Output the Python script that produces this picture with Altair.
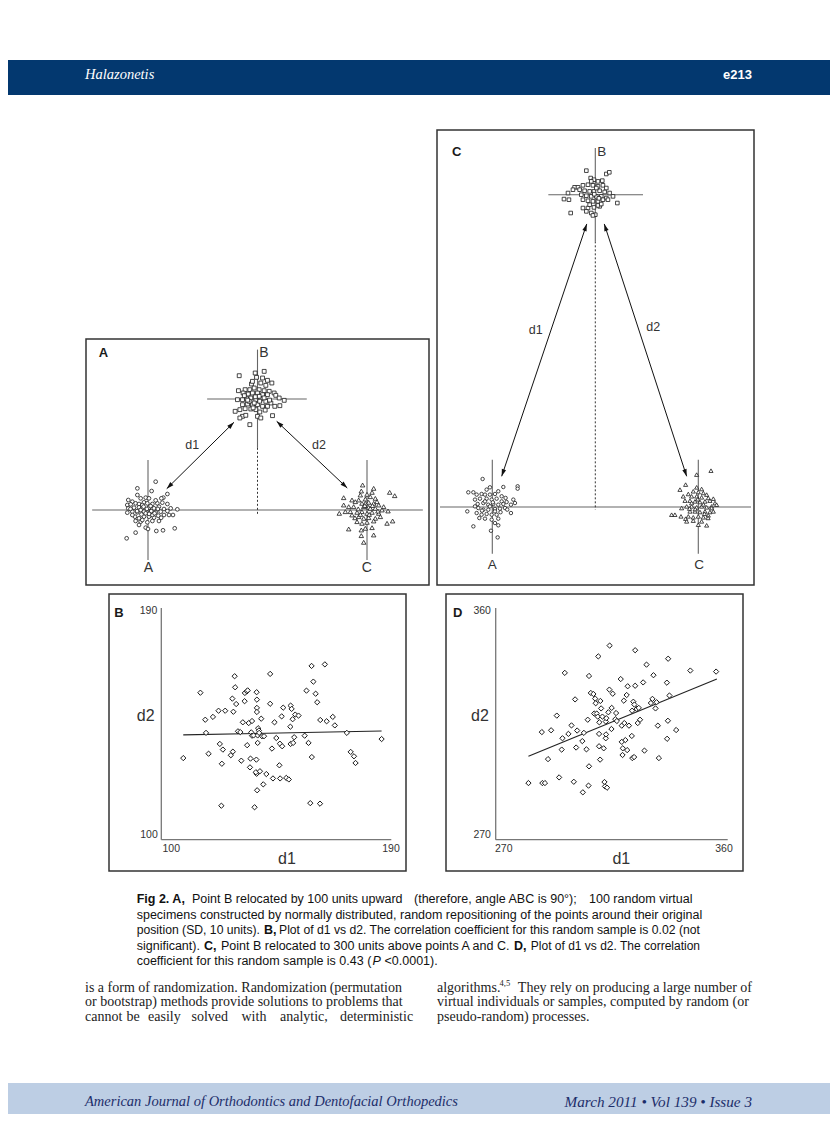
import altair as alt
import pandas as pd

SANS = "Liberation Sans, Arial, Helvetica, sans-serif"
NARROW = "Liberation Sans Narrow, Arial Narrow, Liberation Sans, sans-serif"
SERIF = "Liberation Serif, Times New Roman, serif"

# ---------------- Panel B: d1 vs d2 (B 100 units above) ----------------
b_d1 = [108.6,115.3,117.2,117.5,118.5,120.2,122.4,122.9,123.7,124.1,
        123.5,125.0,127.2,127.8,128.2,128.0,128.7,128.9,129.3,130.0,
        130.9,131.3,131.9,132.6,132.7,133.5,133.8,133.6,134.2,134.7,
        134.9,135.2,135.5,135.5,136.1,136.5,137.2,137.3,137.4,137.4,
        137.4,137.3,137.0,137.7,137.7,137.5,137.9,138.2,138.3,138.6,
        139.1,139.4,139.9,140.2,141.1,142.6,142.6,143.3,143.7,144.3,
        145.0,146.2,146.4,146.5,147.1,147.3,147.7,148.9,149.9,150.5,
        150.6,151.0,150.6,151.4,151.6,152.0,152.4,153.7,156.1,156.8,
        157.6,158.3,158.8,158.9,159.5,160.4,161.0,162.1,162.2,164.0,
        164.7,167.1,167.9,172.6,174.1,175.4,176.0,186.2]
b_d2 = [131.7,157.1,146.6,141.5,133.4,147.7,150.1,137.2,129.5,135.0,
        113.2,150.1,132.8,154.8,149.7,134.2,163.5,159.2,152.7,142.1,
        141.8,130.7,145.6,153.8,157.0,157.6,158.0,136.7,145.3,128.1,
        131.5,141.7,146.1,140.4,140.5,112.6,131.1,157.3,154.4,151.2,
        149.6,125.6,126.2,137.6,140.5,119.2,143.3,142.4,141.5,126.6,
        147.0,140.2,121.5,140.2,125.5,164.4,152.8,135.4,123.8,145.6,
        139.5,128.9,137.3,123.8,147.9,136.3,151.3,124.0,123.4,143.9,
        152.1,150.8,137.2,146.8,137.6,139.8,148.6,148.2,140.4,157.9,
        137.6,114.2,167.5,132.1,161.4,156.7,153.4,114.0,146.5,168.1,
        146.0,147.7,144.4,141.5,134.1,132.4,129.8,139.1]
b_fit_d1 = [108.6, 186.2]
b_fit_d2 = [140.7, 142.2]

# ---------------- Panel D: d1 vs d2 (B 300 units above) ----------------
d_d1 = [282.7,287.9,288.1,289.1,290.3,291.5,293.7,294.6,295.6,295.9,
        296.8,298.2,299.4,300.3,300.8,301.2,301.6,303.6,303.8,304.2,
        305.2,305.7,306.0,306.2,306.2,306.9,307.9,308.2,308.6,308.8,
        309.2,309.6,309.8,310.1,310.1,310.2,310.5,310.6,310.9,311.4,
        311.9,312.2,312.4,312.7,312.7,312.8,312.9,313.2,313.7,314.2,
        314.1,314.9,315.0,315.4,316.4,316.7,317.0,318.5,318.9,318.9,
        319.2,319.3,319.7,319.9,320.3,320.8,321.0,321.2,321.7,322.8,
        322.9,323.0,323.4,323.7,323.8,324.1,324.1,324.7,325.1,325.5,
        326.0,327.2,327.7,328.5,330.2,330.8,331.2,332.0,332.4,332.9,
        333.3,336.4,336.5,336.8,336.9,337.4,340.0,345.5,355.5]
d_d2 = [292.0,311.8,292.0,292.0,301.3,312.5,318.2,294.2,305.0,309.4,
        334.8,311.1,314.4,292.5,324.5,305.8,312.4,308.3,288.4,311.5,
        305.1,316.6,291.0,298.5,333.6,327.0,326.6,319.0,324.8,323.0,
        319.0,317.8,341.2,311.1,306.3,315.6,301.1,323.9,321.0,317.8,
        305.5,292.4,290.7,315.9,309.4,310.9,317.2,290.2,319.5,345.4,
        328.3,313.0,321.2,326.7,316.8,319.2,316.1,332.4,308.0,314.3,
        302.9,305.5,324.0,315.3,308.7,326.2,304.8,329.6,314.3,310.3,
        320.1,301.7,323.6,302.1,322.5,343.6,329.8,320.8,315.3,321.2,
        316.6,331.1,304.6,338.0,323.1,324.7,333.9,321.0,323.4,314.3,
        301.7,331.0,309.2,316.2,340.3,326.0,312.6,335.7,335.3]
d_fit_d1 = [282.7, 355.8]
d_fit_d2 = [302.4, 332.4]

# ---------------- Panel A: virtual specimens (offsets in units) ----------------
a_pos_A = (0, 0)
a_pos_B = (100, 100)
a_pos_C = (200, 0)
a_off_A = [(-9.7,19.5),(7.0,25.5),(3.3,17.1),(17.7,14.4),(14.0,11.1),(12.2,10.5),(-18.0,9.0),(-14.3,7.5),
           (-6.7,10.5),(-2.1,11.1),(0.9,10.5),(-18.9,4.5),(-15.8,5.1),(-11.3,6.0),(-8.2,5.4),(-3.7,6.9),
           (-0.6,6.0),(4.0,5.4),(8.5,6.0),(13.1,6.6),(17.7,5.4),(-18.0,1.5),(-12.8,2.1),(-8.2,2.4),
           (-5.2,1.5),(0.9,2.1),(5.5,1.5),(10.0,3.0),(14.6,0.9),(20.7,1.5),(26.8,0.6),(-18.9,-2.4),
           (-14.3,-1.5),(-9.7,-2.1),(-3.7,-1.5),(2.4,-1.5),(7.0,-2.1),(11.6,-1.5),(17.7,-0.9),(22.8,-4.5),
           (-11.9,-6.0),(-8.2,-7.5),(-3.7,-6.0),(0.9,-6.0),(5.5,-6.9),(9.4,-5.1),(14.6,-4.5),(-11.3,-9.9),
           (-6.7,-10.5),(-0.6,-11.1),(4.0,-9.9),(10.0,-9.9),(-2.1,-15.9),(0.0,-17.1),(7.6,-18.9),(13.7,-18.3),
           (24.4,-16.5),(-11.3,-20.4),(-19.5,-25.5),(-8.2,-13.5),(-5.2,-9.0),(-14.3,-4.5),(19.2,-4.5),(4.0,-4.5),
           (-2.1,-3.0),(-6.7,0.0),(2.4,3.6),(-5.2,4.5),(7.0,8.7),(-9.7,13.5),(-1.0,1.0),(3.0,-1.0),
           (-4.0,3.0),(6.0,-3.0),(-10.0,-1.0),(1.0,-3.5),(9.0,1.0),(-6.0,-4.0),(12.0,-7.0),(-16.0,1.0)]
a_off_B = [(-16.7,21.0),(-2.1,23.4),(6.1,24.9),(-0.9,19.5),(9.1,16.8),(13.1,14.4),(3.0,14.4),(-5.5,13.5),
           (7.6,12.3),(-11.3,8.4),(-7.0,8.4),(-3.0,9.9),(1.5,8.4),(6.1,7.5),(10.7,6.9),(15.2,5.4),
           (-17.4,7.5),(-13.1,5.4),(-8.5,4.5),(-4.6,5.4),(0.0,5.4),(4.6,3.9),(9.1,3.9),(16.7,3.3),
           (19.8,0.9),(24.4,-1.2),(-18.3,-0.6),(-13.7,-0.6),(-10.0,0.3),(-6.1,0.9),(-1.5,-0.6),(3.0,0.0),
           (7.6,-2.1),(12.2,-3.6),(15.8,-6.6),(20.4,-6.0),(-13.7,-5.1),(-9.1,-4.5),(-4.6,-5.1),(0.0,-5.1),
           (4.6,-6.6),(9.1,-6.6),(-20.4,-11.1),(-16.1,-9.6),(-11.3,-8.7),(-6.1,-9.0),(-1.5,-9.6),(2.1,-11.7),
           (-13.7,-15.6),(-16.1,-17.1),(-10.7,-14.7),(0.0,-15.6),(3.0,-17.1),(13.7,-15.0),(-7.0,-23.1),(-3.0,-3.6),
           (-7.6,-2.1),(1.5,2.4),(-4.6,15.9),(4.6,18.9),(-2.0,2.0),(2.0,-2.0),(6.0,1.0),(-9.0,-1.0),
           (11.0,-1.0),(-4.0,-8.0),(7.0,-10.0),(-12.0,3.0)]
a_off_C = [(-4.0,22.5),(6.1,19.5),(-5.2,17.1),(4.6,15.9),(20.7,15.9),(25.3,12.9),(0.0,14.1),(-6.1,13.5),
           (3.0,12.0),(-21.3,11.1),(-13.7,9.0),(-7.6,9.0),(-1.5,9.9),(7.6,10.5),(-10.7,7.5),(-4.6,6.0),
           (1.5,6.9),(6.1,6.0),(10.7,4.5),(15.2,3.0),(-21.3,4.5),(-16.7,3.0),(-12.2,3.0),(-3.0,3.0),
           (1.5,2.4),(7.6,1.5),(13.7,0.0),(19.2,-0.9),(-25.3,-3.0),(-19.8,-1.5),(-15.2,-1.5),(-9.1,-2.1),
           (-4.6,-1.5),(0.0,-3.0),(4.6,-2.1),(10.7,-3.0),(-7.6,-6.0),(-3.0,-7.5),(1.5,-6.9),(7.6,-7.5),
           (12.2,-6.0),(-9.1,-10.5),(-4.6,-12.0),(0.0,-11.1),(6.1,-9.9),(18.3,-12.0),(23.4,-9.9),(-16.7,-17.1),
           (-5.2,-18.0),(-1.5,-16.5),(4.6,-15.9),(-5.2,-23.1),(6.1,-22.5),(-3.0,-29.1),(-13.7,-4.5),(3.0,1.5),
           (9.1,7.5),(-1.5,6.0),(-8.0,1.0),(2.0,-4.0),(10.0,-1.0),(-2.0,4.0),(5.0,4.0),(-11.0,-7.0),(-6.0,-4.0)]

# ---------------- Panel C: virtual specimens (offsets in units) ----------------
c_pos_A = (0, 0)
c_pos_B = (100, 300)
c_pos_C = (200, 0)
c_off_A = [(-9.4,26.9),(10.7,19.2),(24.6,19.9),(24.6,17.6),(5.8,15.1),(-2.3,18.9),(-5.5,16.7),(-23.3,14.1),
           (-18.4,14.1),(-15.2,11.9),(-10.4,12.5),(-7.1,11.9),(-2.3,11.9),(2.6,12.5),(9.1,10.3),(12.9,8.7),
           (20.4,7.1),(-16.8,7.1),(-12.0,8.0),(-5.5,8.0),(-0.6,7.1),(4.2,8.0),(9.1,5.4),(13.9,4.8),
           (22.0,3.8),(-14.2,2.9),(-8.7,3.8),(-3.9,2.2),(1.0,2.9),(5.8,2.2),(10.7,2.9),(18.1,2.2),
           (-24.3,-4.2),(-13.6,-1.0),(-8.7,-2.6),(-3.9,-2.6),(2.6,-1.9),(7.4,-1.6),(12.3,-1.0),(18.1,-5.8),
           (-15.2,-5.8),(-10.4,-7.4),(-5.5,-6.7),(-0.6,-7.4),(4.2,-7.4),(-12.6,-10.6),(-7.1,-11.2),(-0.6,-12.2),
           (5.8,-11.2),(2.6,-15.4),(5.8,-17.6),(-18.4,-18.6),(-1.3,-22.8),(5.2,-29.2),(-16.8,0.6),(-2.3,0.6),
           (-7.1,5.4),(2.6,-4.2),(0.5,4.5),(-10.0,-3.5),(8.0,-5.0),(14.5,-2.5)]
c_off_B = [(-8.7,23.1),(10.7,19.9),(13.6,21.5),(6.8,13.5),(-4.5,16.0),(-1.3,14.4),(2.6,12.8),(-20.1,7.1),
           (-16.8,7.1),(-12.0,9.0),(-7.1,9.6),(-2.3,9.0),(2.6,8.0),(7.4,9.0),(10.7,6.4),(-26.5,1.6),
           (-21.7,4.8),(-15.2,4.8),(-10.4,3.8),(-5.5,3.2),(-1.3,3.2),(4.2,3.8),(9.1,2.6),(13.9,1.6),
           (-30.4,-4.2),(-25.6,-4.8),(-13.6,0.0),(-8.7,-1.0),(-3.9,-1.6),(1.0,-1.6),(5.8,-1.6),(10.7,-3.2),
           (17.2,-1.6),(21.4,-8.0),(-12.0,-4.8),(-7.1,-5.8),(-2.3,-6.4),(2.6,-6.4),(7.4,-4.8),(12.3,-4.8),
           (-12.0,-12.8),(-7.1,-12.8),(-1.3,-12.2),(4.2,-11.2),(-23.9,-17.6),(-8.7,-16.0),(-3.9,-17.6),(0.0,-19.2),
           (2.6,-10.3),(-2.3,-19.9),(5.8,-9.0),(-5.5,-9.6),(1.0,6.4),(-3.9,12.8),(-1.0,0.5),(3.5,-3.5)]
c_off_C = [(12.3,34.9),(-1.6,31.1),(-12.3,21.5),(-17.8,16.7),(-1.6,18.9),(3.2,17.3),(-4.9,15.1),(0.0,14.4),
           (4.9,13.5),(8.1,11.9),(-9.7,12.5),(-14.6,10.3),(-6.5,10.3),(-1.6,10.3),(3.2,9.3),(9.7,8.7),
           (14.6,8.0),(-12.9,6.1),(-8.1,6.1),(-3.2,5.4),(1.6,4.8),(6.5,5.4),(11.3,6.1),(16.2,3.8),
           (-16.2,-1.0),(-11.3,0.6),(-6.5,0.6),(-1.6,-0.3),(3.2,0.6),(8.1,-0.3),(12.9,0.6),(17.8,2.2),
           (-25.9,-7.4),(-22.7,-7.4),(-16.8,-9.0),(-12.3,-11.2),(-8.1,-4.2),(-3.2,-4.2),(1.6,-4.8),(6.5,-4.2),
           (11.3,-4.8),(-9.7,-9.0),(-4.9,-9.9),(0.0,-9.0),(4.9,-9.9),(9.7,-8.0),(14.6,-4.2),(0.0,-17.0),
           (8.1,-17.6),(-11.3,-13.8),(3.2,-13.8),(-4.9,-13.1),(-6.5,3.8),(12.9,-1.0),(-3.0,-2.0),(5.0,2.5),
           (9.5,-10.5),(-0.5,7.5),(6.0,-6.5),(-8.5,-1.5)]

# --------------------------------------------------------------------------------
M = 8
W, H = 822, 1106
one = pd.DataFrame({"k": [0]})
ARROW = "M0,0L1,3.2L-1,3.2Z"


def sc(domain, r0, r1):
    return alt.Scale(domain=domain, range=[r0 - M, r1 - M], nice=False, zero=False)


def txt(s, x, y, size, weight="normal", style="normal", font=SANS, color="#1a1a1a", align="left"):
    return alt.Chart(one).mark_text(
        text=s, fontSize=size, fontWeight=weight, fontStyle=style, font=font,
        color=color, align=align, baseline="middle"
    ).encode(x=alt.value(x - M), y=alt.value(y - M))


def box(x0, y0, x1, y1, fill, stroke="", sw=0):
    kw = dict(fill=fill)
    if stroke:
        kw.update(stroke=stroke, strokeWidth=sw)
    return alt.Chart(one).mark_rect(**kw).encode(
        x=alt.value(x0 - M), x2=alt.value(x1 - M), y=alt.value(y0 - M), y2=alt.value(y1 - M))


def segs(df, sx, sy, color, width, dash=None):
    kw = dict(color=color, strokeWidth=width)
    if dash:
        kw["strokeDash"] = dash
    return alt.Chart(df).mark_rule(**kw).encode(
        x=alt.X("x:Q", scale=sx, axis=None), y=alt.Y("y:Q", scale=sy, axis=None),
        x2="x2:Q", y2="y2:Q")


def pts(df, sx, sy, shape, size, sw=0.8):
    return alt.Chart(df).mark_point(
        shape=shape, size=size, filled=True, fill="white", stroke="#1a1a1a",
        strokeWidth=sw, opacity=1
    ).encode(x=alt.X("x:Q", scale=sx, axis=None), y=alt.Y("y:Q", scale=sy, axis=None))


def heads(df, sx, sy):
    return alt.Chart(df).mark_point(
        shape=ARROW, size=20, filled=True, color="#111", opacity=1, strokeWidth=0
    ).encode(x=alt.X("x:Q", scale=sx, axis=None), y=alt.Y("y:Q", scale=sy, axis=None),
             angle=alt.Angle("a:Q", scale=None))


def cluster(offsets, pos):
    return pd.DataFrame({"x": [pos[0] + dx for dx, dy in offsets],
                         "y": [pos[1] + dy for dx, dy in offsets]})


layers = []

# page bars
layers.append(box(0, 60, 838, 95, "#03386f"))
layers.append(txt("Halazonetis", 85, 75, 14.5, style="italic", font=SERIF, color="white"))
layers.append(txt("e213", 752, 75, 13, weight="bold", font=NARROW, color="white", align="right"))
layers.append(box(0, 1083, 838, 1130, "#bdcee4"))
layers.append(txt("American Journal of Orthodontics and Dentofacial Orthopedics", 85, 1102, 14.5,
                  style="italic", font=SERIF, color="#1c2d6a"))
layers.append(txt("March 2011 \u2022 Vol 139 \u2022 Issue 3", 752, 1102, 15.2,
                  style="italic", font=SERIF, color="#1c2d6a", align="right"))

# panel frames
layers.append(box(86, 339, 429, 585, "white", "#333", 1.5))
layers.append(box(437, 130, 754, 585, "white", "#333", 1.5))
layers.append(box(109, 594, 406, 871, "white", "#333", 1.5))
layers.append(box(446, 594, 743, 871, "white", "#333", 1.5))

# ---------------- Panel A ----------------
xA = sc([0, 200], 148, 367)
yA = sc([0, 100], 510, 399)
crossA = pd.DataFrame({"x": [-51, 0, 200, 54, 100], "y": [0, -45, -45, 100, 56],
                       "x2": [251, 0, 200, 145, 100], "y2": [0, 45, 45, 100, 144.5]})
dotA = pd.DataFrame({"x": [100], "y": [56], "x2": [100], "y2": [-4]})
arrA = pd.DataFrame({"x": [17.1, 117.5], "y": [19.2, 79.9], "x2": [78.5, 182.0], "y2": [79.0, 19.8]})
headA = pd.DataFrame({"x": [17.1, 78.5, 117.5, 182.0], "y": [19.2, 79.0, 79.9, 19.8],
                      "a": [225.4, 45.4, 313.4, 133.4]})
layers += [
    segs(crossA, xA, yA, "#666", 1.1),
    segs(dotA, xA, yA, "#333", 1, [2, 2]),
    segs(arrA, xA, yA, "#111", 1),
    heads(headA, xA, yA),
    pts(cluster(a_off_A, a_pos_A), xA, yA, "circle", 14),
    pts(cluster(a_off_B, a_pos_B), xA, yA, "square", 15),
    pts(cluster(a_off_C, a_pos_C), xA, yA, "triangle-up", 20),
    txt("A", 98.8, 353, 13, weight="bold"),
    txt("B", 264, 353, 14, align="center", color="#333"),
    txt("A", 148.3, 568, 14, align="center", color="#333"),
    txt("C", 366.7, 568, 14, align="center", color="#333"),
    txt("d1", 192.3, 445, 12.5, align="center", color="#333"),
    txt("d2", 319, 445, 12.5, align="center", color="#333"),
]

# ---------------- Panel C ----------------
xC = sc([0, 200], 492.3, 698.3)
yC = sc([0, 300], 507, 194.7)
crossC = pd.DataFrame({"x": [-50.8, 0, 200, 54.4, 100], "y": [0, -45, -45, 300, 255.2],
                       "x2": [251.2, 0, 200, 146.3, 100], "y2": [0, 45.4, 45.4, 300, 344.9]})
dotC = pd.DataFrame({"x": [100], "y": [255.2], "x2": [100], "y2": [-2.6]})
arrC = pd.DataFrame({"x": [9.1, 108.7], "y": [29.5, 271.9], "x2": [91.7, 188.7], "y2": [271.9, 29.5]})
headC = pd.DataFrame({"x": [9.1, 91.7, 108.7, 188.7], "y": [29.5, 271.9, 271.9, 29.5],
                      "a": [198.6, 18.6, 341.9, 161.9]})
layers += [
    segs(crossC, xC, yC, "#666", 1.1),
    segs(dotC, xC, yC, "#333", 1, [2, 2]),
    segs(arrC, xC, yC, "#111", 1),
    heads(headC, xC, yC),
    pts(cluster(c_off_A, c_pos_A), xC, yC, "circle", 12),
    pts(cluster(c_off_B, c_pos_B), xC, yC, "square", 13),
    pts(cluster(c_off_C, c_pos_C), xC, yC, "triangle-up", 17),
    txt("C", 456.7, 152, 13, weight="bold", align="center"),
    txt("B", 601.7, 152, 13.5, align="center", color="#333"),
    txt("A", 492.3, 565, 13.5, align="center", color="#333"),
    txt("C", 699, 565, 13.5, align="center", color="#333"),
    txt("d1", 535.7, 330, 12.5, align="center", color="#333"),
    txt("d2", 653.3, 326.5, 12.5, align="center", color="#333"),
]

# ---------------- Panel B ----------------
xB = sc([100, 190], 161.3, 391.3)
yB = sc([100, 190], 839.7, 608)
axB = pd.DataFrame({"x": [100, 100], "y": [100, 100], "x2": [100, 190], "y2": [190, 100]})
fitB = pd.DataFrame({"x": [b_fit_d1[0]], "y": [b_fit_d2[0]], "x2": [b_fit_d1[1]], "y2": [b_fit_d2[1]]})
layers += [
    segs(axB, xB, yB, "#777", 1.3),
    segs(fitB, xB, yB, "#222", 1.1),
    pts(pd.DataFrame({"x": b_d1, "y": b_d2}), xB, yB, "diamond", 28, 1.0),
    txt("B", 119, 612.5, 13, weight="bold", align="center"),
    txt("190", 148.5, 610.5, 10.5, align="center", color="#333"),
    txt("100", 149, 835, 10.5, align="center", color="#333"),
    txt("100", 171.3, 849, 10.5, align="center", color="#333"),
    txt("190", 391, 849, 10.5, align="center", color="#333"),
    txt("d2", 145.7, 716, 16, align="center", color="#333"),
    txt("d1", 287, 858.5, 16, align="center", color="#333"),
]

# ---------------- Panel D ----------------
xD = sc([270, 360], 495.7, 727.7)
yD = sc([270, 360], 839.7, 608)
axD = pd.DataFrame({"x": [270, 270], "y": [270, 270], "x2": [270, 360], "y2": [360, 270]})
fitD = pd.DataFrame({"x": [d_fit_d1[0]], "y": [d_fit_d2[0]], "x2": [d_fit_d1[1]], "y2": [d_fit_d2[1]]})
layers += [
    segs(axD, xD, yD, "#777", 1.3),
    segs(fitD, xD, yD, "#222", 1.1),
    pts(pd.DataFrame({"x": d_d1, "y": d_d2}), xD, yD, "diamond", 28, 1.0),
    txt("D", 457.7, 612.5, 13, weight="bold", align="center"),
    txt("360", 482.2, 610.5, 10.5, align="center", color="#333"),
    txt("270", 482.2, 835, 10.5, align="center", color="#333"),
    txt("270", 503.8, 849, 10.5, align="center", color="#333"),
    txt("360", 724, 849, 10.5, align="center", color="#333"),
    txt("d2", 480, 716, 16, align="center", color="#333"),
    txt("d1", 621.3, 858.5, 16, align="center", color="#333"),
]

# ---------------- Caption ----------------
CS = 12.5
CC = "#111"
layers += [
    txt("Fig 2. A,", 136.7, 899, CS, weight="bold", color=CC),
    txt("Point B relocated by 100 units upward", 192, 899, CS, color=CC),
    txt("(therefore, angle ABC is 90\u00b0);", 414, 899, CS, color=CC),
    txt("100 random virtual", 589, 899, CS, color=CC),
    txt("specimens constructed by normally distributed, random repositioning of the points around their original",
        136.7, 914.5, CS, color=CC),
    txt("position (SD, 10 units).", 136.7, 930, 12.2, color=CC),
    txt("B,", 264, 930, CS, weight="bold", color=CC),
    txt("Plot of d1 vs d2. The correlation coefficient for this random sample is 0.02 (not",
        279, 930, 12.2, color=CC),
    txt("significant).", 136.7, 945.5, CS, color=CC),
    txt("C,", 204, 945.5, CS, weight="bold", color=CC),
    txt("Point B relocated to 300 units above points A and C.", 221, 945.5, CS, color=CC),
    txt("D,", 514, 945.5, CS, weight="bold", color=CC),
    txt("Plot of d1 vs d2. The correlation", 700, 945.5, 12.0, color=CC, align="right"),
    txt("coefficient for this random sample is 0.43 (", 136.7, 961, CS, color=CC),
    txt("P", 372.5, 961, CS, style="italic", color=CC),
    txt("<0.0001).", 384.5, 961, CS, color=CC),
]

# ---------------- Body text ----------------
BS = 14
BC = "#222"
left3_words = ["cannot", "be", "easily", "solved", "with", "analytic,", "deterministic"]
left3_x = [85, 126.5, 148, 191.5, 241.5, 280, 340]
layers += [
    txt("is a form of randomization. Randomization", 85, 987.5, BS, font=SERIF, color=BC),
    txt("(permutation", 402, 987.5, BS, font=SERIF, color=BC, align="right"),
    txt("or bootstrap) methods provide solutions to problems that", 85, 1002.3, BS, font=SERIF, color=BC),
    txt("algorithms.", 437, 987.5, BS, font=SERIF, color=BC),
    txt("4,5", 499.5, 983, 8.5, font=SERIF, color=BC),
    txt("They rely on producing a large number of", 752, 987.5, BS, font=SERIF, color=BC, align="right"),
    txt("virtual individuals or samples, computed by random (or", 437, 1002.3, BS, font=SERIF, color=BC),
    txt("pseudo-random) processes.", 437, 1017, BS, font=SERIF, color=BC),
]
for w_, x_ in zip(left3_words, left3_x):
    layers.append(txt(w_, x_, 1017, BS, font=SERIF, color=BC))

chart = alt.layer(*layers).resolve_scale(x="independent", y="independent").properties(
    width=W, height=H, padding=0, autosize=alt.AutoSizeParams(type="none")
).configure_view(stroke=None)

chart.save("out.html", embed_options={"renderer": "svg", "actions": False})
